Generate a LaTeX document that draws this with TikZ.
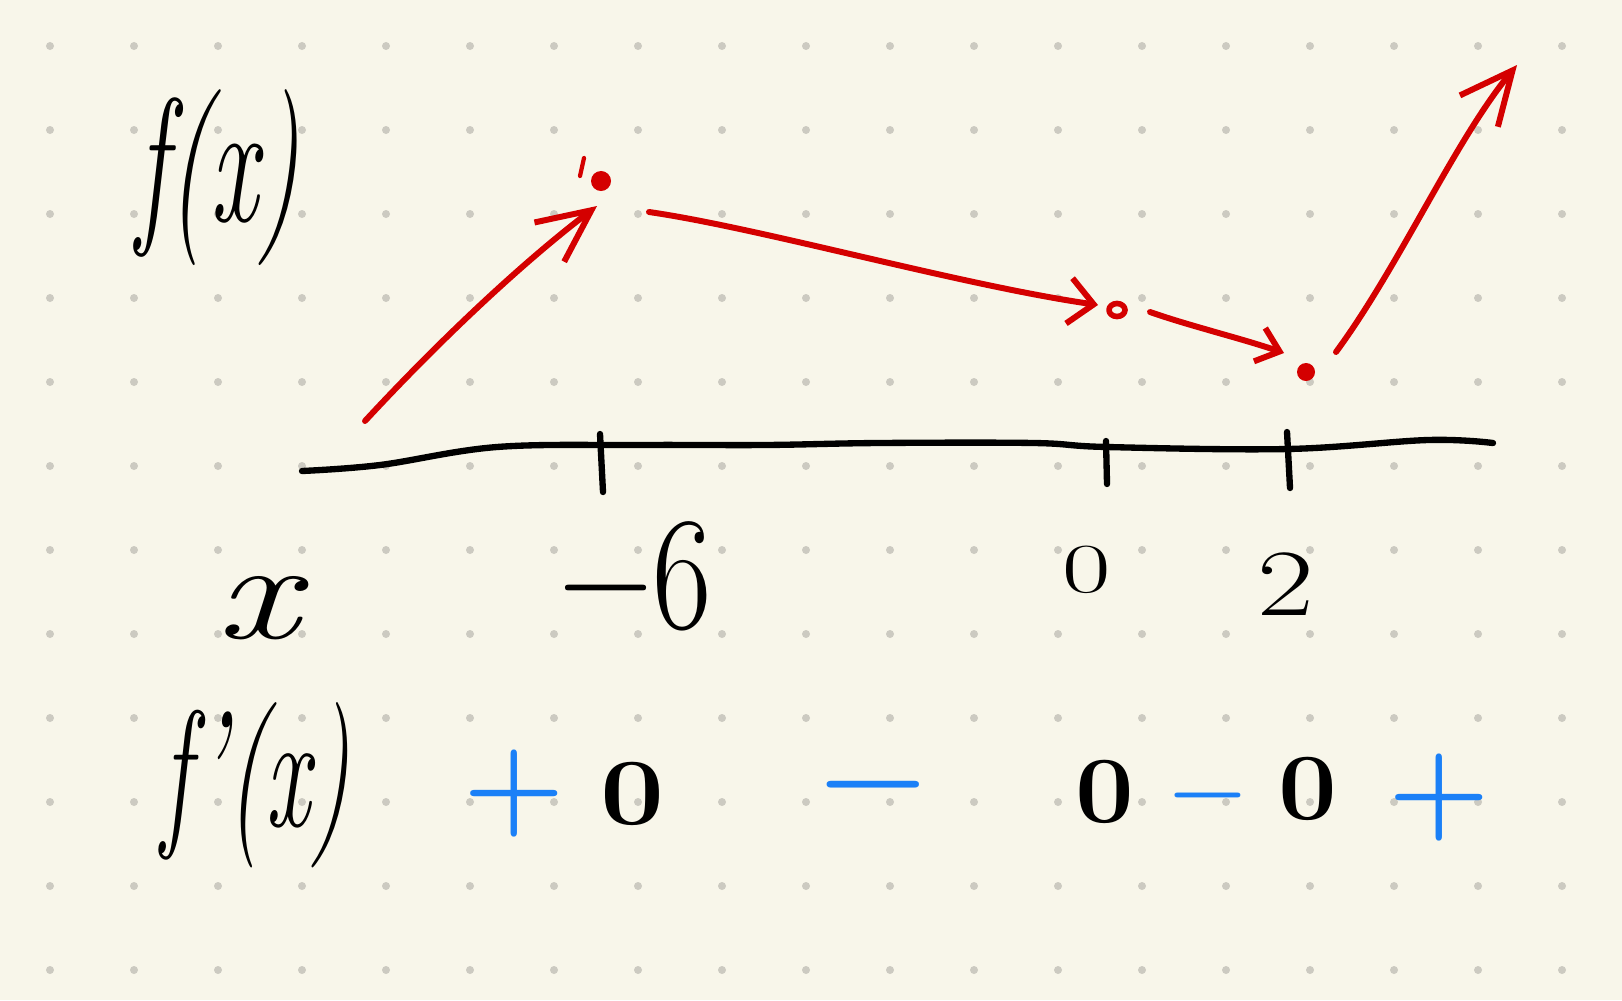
\documentclass[tikz,border=0pt]{standalone}
\usetikzlibrary{arrows.meta}

\definecolor{paper}{HTML}{F8F6EA}
\definecolor{griddot}{HTML}{CCCAC1}
\definecolor{penred}{HTML}{D40000}
\definecolor{penblue}{HTML}{1B80F7}

\begin{document}
\begin{tikzpicture}
        [x=0.01cm, y=-0.01cm,
        txt/.style={inner sep=0pt, black},
        sign/.style={inner sep=0pt, penblue},
        axis/.style={line width=1.8pt, black, line cap=round, line join=round},
        trend/.style={line width=1.7pt, penred, line cap=round, line join=round},
        bigtip/.style={-{Straight Barb[length=15pt, width=14pt]}},
        midtip/.style={-{Straight Barb[length=7pt, width=13pt]}},
        smalltip/.style={-{Straight Barb[length=6pt, width=10pt]}}]

        % notebook page
        \fill[paper] (0,0) rectangle (1622,1000);
        \useasboundingbox (0,0) rectangle (1622,1000);
        \foreach \i in {0,...,18}
          \foreach \j in {0,...,11}
            \fill[griddot] ({50+84*\i},{46+84*\j}) circle[radius=0.04cm];

        % number line with ticks
        \draw[axis] plot[smooth, tension=0.6] coordinates {(302,471) (380,465) (497,447) (640,445)
          (765,445) (879,443) (1034,443) (1107,447) (1288,449) (1428,440) (1493,443)};
        \draw[axis] (600,434) -- (603,492);
        \draw[axis] (1106,441) -- (1107,484);
        \draw[axis] (1287,432) -- (1290,488);

        % row labels
        \node[txt, font=\fontsize{50}{56}\selectfont\itshape] (fx) at (218,178) {\scalebox{0.6}[1]{f(x)}};
        \node[txt, font=\fontsize{40}{44}\selectfont\itshape] (xlab) at (258,608) {\scalebox{1.3}[1]{x}};
        \node[txt, font=\fontsize{47}{52}\selectfont\itshape] (fpx) at (256,785) {\scalebox{0.6}[1]{f'(x)}};

        % critical values
        \node[txt, anchor=base, font=\fontsize{46}{50}\selectfont] (xa) at (636,628) {\scalebox{0.8}[1]{−6}};
        \node[txt, anchor=base, font=\fontsize{20}{24}\selectfont] (xb) at (1087,592) {\scalebox{1.5}[1]{0}};
        \node[txt, anchor=base, font=\fontsize{27}{30}\selectfont] (xc) at (1286,615) {\scalebox{1.3}[1]{2}};

        % sign of f'(x)
        \node[sign, font=\bfseries\fontsize{33}{36}\selectfont] (pa) at (514,794) {+};
        \node[txt, anchor=base, font=\bfseries\fontsize{27}{30}\selectfont] (za) at (633,824) {\scalebox{1.2}[1]{0}};
        \node[sign, font=\bfseries\fontsize{35}{38}\selectfont] (na) at (873,798) {−};
        \node[txt, anchor=base, font=\bfseries\fontsize{27}{30}\selectfont] (zb) at (1105,822) {\scalebox{1.1}[1]{0}};
        \node[sign, font=\bfseries\fontsize{25}{28}\selectfont] (nb) at (1208,805) {−};
        \node[txt, anchor=base, font=\bfseries\fontsize{27}{30}\selectfont] (zc) at (1308,819) {\scalebox{1.1}[1]{0}};
        \node[sign, font=\bfseries\fontsize{33}{36}\selectfont] (pb) at (1439,798) {+};

        % increasing / decreasing arrows
        \coordinate (s1) at (365,421);
        \coordinate (t1) at (597,206);
        \coordinate (s2) at (649,212);
        \coordinate (t2) at (1098,305);
        \coordinate (s3) at (1150,312);
        \coordinate (t3) at (1284,353);
        \coordinate (s4) at (1336,352);
        \coordinate (t4) at (1517,65);

        \draw[trend, bigtip] (s1) .. controls (440,340) and (523,262) .. (t1);
        \draw[trend, midtip] (s2) .. controls (760,228) and (960,285) .. (t2);
        \draw[trend, smalltip] (s3) .. controls (1190,326) and (1240,338) .. (t3);
        \draw[trend, bigtip] (s4) .. controls (1400,265) and (1455,140) .. (t4);

        % marks at the turning points
        \draw[trend, line width=1.2pt] (584,158) -- (580,176);
        \fill[penred] (601,181) circle[radius=0.1cm];
        \draw[trend, line width=1.6pt] (1117,310) ellipse[x radius=0.08cm, y radius=0.065cm];
        \fill[penred] (1306,372) circle[radius=0.09cm];

\end{tikzpicture}
\end{document}
